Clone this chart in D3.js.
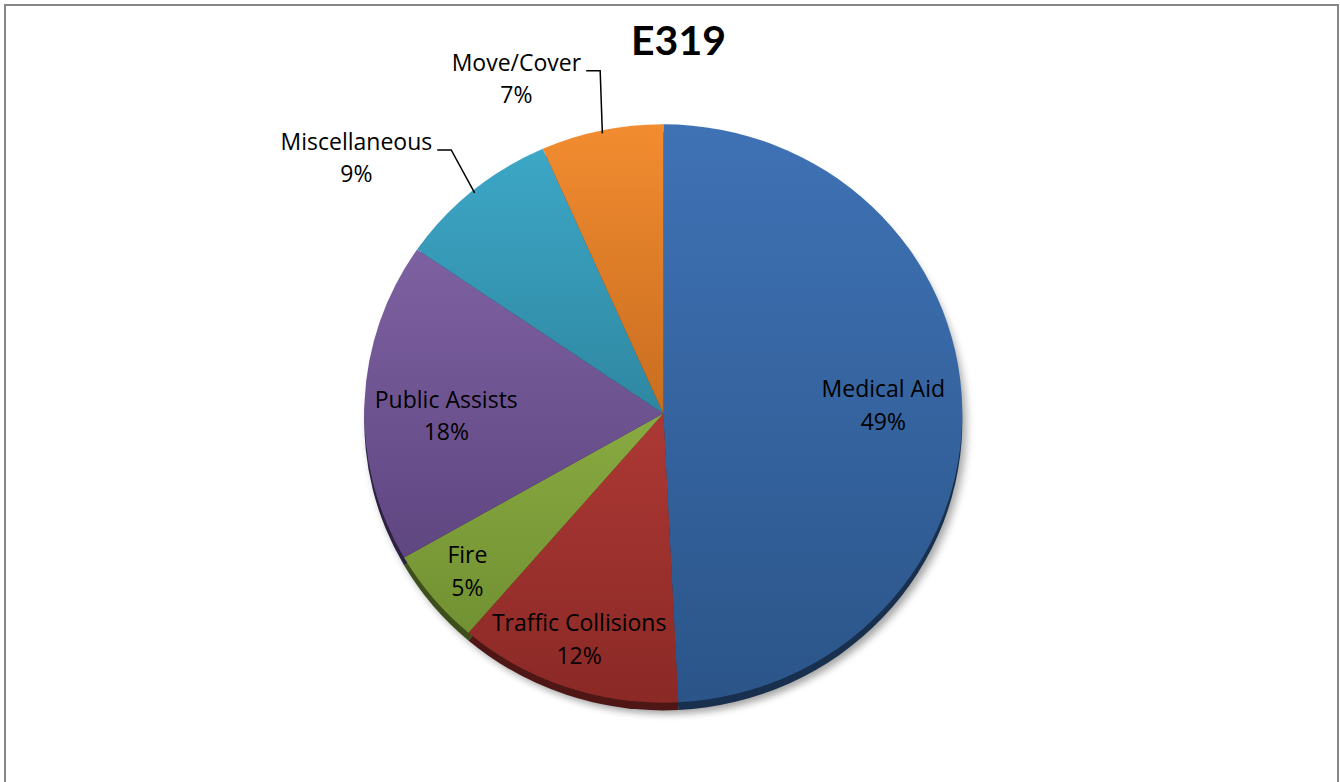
<!DOCTYPE html>
<html>
<head>
<meta charset="utf-8">
<script src="https://cdn.jsdelivr.net/npm/d3@7"></script>
<style>
  html, body { margin: 0; padding: 0; background: #fff; }
  svg { display: block; }
  text { fill: #000; }
</style>
</head>
<body>
<svg id="chart" width="1340" height="782"></svg>
<script>
// ---- data ----
const title = "E319";
const categories = ["Medical Aid", "Traffic Collisions", "Fire", "Public Assists", "Miscellaneous", "Move/Cover"];
const values = [49.2, 12.1, 5.4, 17.9, 8.8, 6.6];
// fill gradient colours (top of pie, bottom of pie)
const colorsTop = ["#3F72B5", "#D04842", "#A8C855", "#8A6BAE", "#3EAACA", "#F28C30"];
const colorsBottom = ["#2B5589", "#8A2926", "#6A8A2E", "#503A72", "#1F6478", "#9E4E10"];
// label placement (fraction of radius, angular shift in degrees), leader line flag
const labelRadius = [0.736, 0.839, 0.859, 0.726, 1.348, 1.248];
const labelAngleShift = [0, 0.7, -0.7, -3.8, -10, -11.3];
const hasLeader = [false, false, false, false, true, true];

const cx = 663.3, cy = 413.5, r = 299, sy = 0.967;
const svg = d3.select("#chart");
const defs = svg.append("defs");

// border
svg.append("rect").attr("x", 5).attr("y", 5).attr("width", 1333).attr("height", 820)
  .attr("fill", "#fff").attr("stroke", "#878787").attr("stroke-width", 2);

// gradients
colorsTop.forEach((c, i) => {
  const g = defs.append("linearGradient").attr("id", "g" + i)
    .attr("gradientUnits", "userSpaceOnUse").attr("x1", 0).attr("y1", -r).attr("x2", 0).attr("y2", r);
  g.append("stop").attr("offset", 0).attr("stop-color", c);
  g.append("stop").attr("offset", 1).attr("stop-color", colorsBottom[i]);
});
const blur = defs.append("filter").attr("id", "shadow").attr("x", "-20%").attr("y", "-20%").attr("width", "140%").attr("height", "140%");
blur.append("feGaussianBlur").attr("stdDeviation", 4);

const pie = d3.pie().sort(null).value(d => d);
const arcs = pie(values);
const arc = d3.arc().innerRadius(0).outerRadius(r);

const face = svg.append("g").attr("transform", `translate(${cx},${cy}) scale(1,${sy})`);

// shadow
face.append("g").attr("transform", "translate(4,12)")
  .append("circle").attr("r", r).attr("fill", "#000").attr("opacity", 0.35).attr("filter", "url(#shadow)");
// rim (3D edge)
face.append("g").attr("transform", "translate(0,8)")
  .selectAll("path").data(arcs).join("path")
  .attr("d", arc).attr("fill", (d, i) => d3.color(colorsBottom[i]).darker(1.6));
// face
face.append("g").selectAll("path").data(arcs).join("path")
  .attr("d", arc).attr("fill", (d, i) => `url(#g${i})`);

// labels
const total = d3.sum(values);
const toScreen = (ang, rad) => [cx + rad * Math.sin(ang), cy - rad * Math.cos(ang) * sy];
const labels = svg.append("g").attr("font-family", "'Open Sans', Lato, sans-serif");
arcs.forEach((d, i) => {
  const mid = (d.startAngle + d.endAngle) / 2;
  const ang = mid + labelAngleShift[i] * Math.PI / 180;
  const [lx, ly] = toScreen(ang, labelRadius[i] * r);
  const t = labels.append("text").attr("text-anchor", "middle").attr("font-size", 23);
  const t1 = t.append("tspan").attr("x", lx).attr("y", ly - 11).text(categories[i]);
  t.append("tspan").attr("x", lx).attr("y", ly + 21.5).text(Math.round(values[i] / total * 100) + "%");
  if (hasLeader[i]) {
    const w = t1.node().getComputedTextLength();
    const x0 = lx + w / 2 + 5, y0 = ly - 11;
    const [ex, ey] = toScreen(mid, r * 0.99);
    labels.append("path")
      .attr("d", d3.line()([[x0, y0], [x0 + 14, y0], [ex, ey]]))
      .attr("fill", "none").attr("stroke", "#000").attr("stroke-width", 1.5);
  }
});

// title
svg.append("text").attr("x", 678.5).attr("y", 55).attr("text-anchor", "middle")
  .attr("font-family", "Lato, sans-serif")
  .attr("font-size", 41).attr("font-weight", "bold").text(title);
</script>
</body>
</html>
